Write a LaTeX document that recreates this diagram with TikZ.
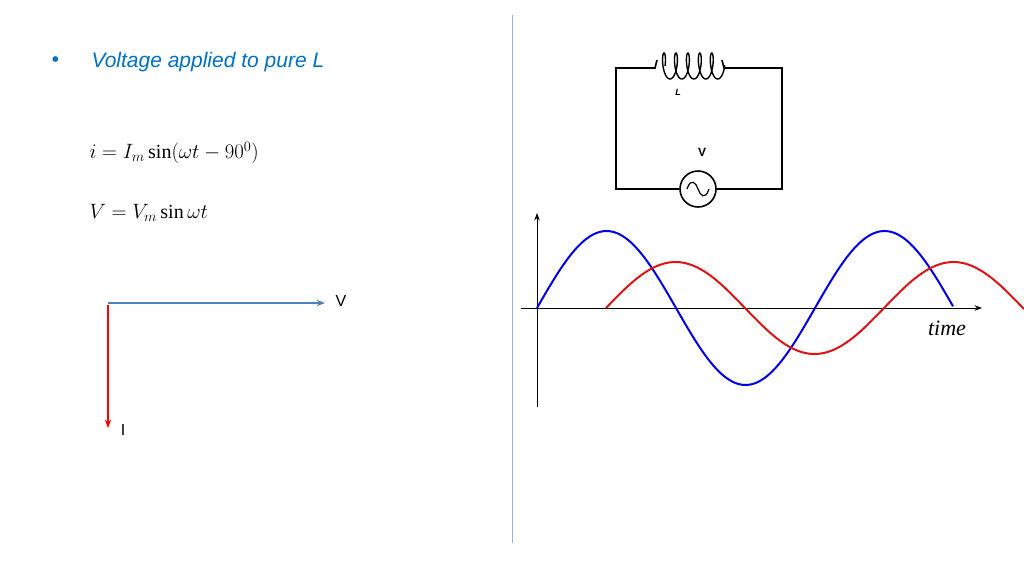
\documentclass[tikz,border=0pt]{standalone}
\usepackage{fontspec}
\setmainfont{Liberation Serif}
\setsansfont{Liberation Sans}
\usetikzlibrary{arrows.meta,positioning}
\definecolor{titleblue}{RGB}{0,112,192}
\definecolor{phasorblue}{RGB}{79,129,189}
\definecolor{divider}{RGB}{149,179,215}
\definecolor{waveblue}{RGB}{0,0,230}
\definecolor{wavered}{RGB}{220,20,20}
\begin{document}
\begin{tikzpicture}[x=1pt,y=-1pt,
  title/.style  = {anchor=west, font=\fontsize{21}{24}\selectfont\sffamily\itshape, text=titleblue},
  eqn/.style    = {anchor=west, font=\fontsize{20}{24}\selectfont},
  label/.style  = {font=\fontsize{16}{18}\selectfont\sffamily},
  wire/.style   = {line width=1.6pt, black},
  wave/.style   = {line width=2pt, smooth, samples=120},
  >=Stealth]
\useasboundingbox (0,0) rectangle (1024,576);

% left panel
\node[title] (bullet) at (48,62) {\textbullet};
\node[title] (head) at (88,62) {Voltage applied to pure L};
\node[eqn] (eqi) at (86,153) {$i = I_m \sin(\omega t - 90^0)$};
\node[eqn] (eqv) at (86,213) {$V = V_m \sin \omega t$};

\coordinate (o) at (108,303);
\coordinate (vtip) at (325,303);
\coordinate (itip) at (108,428);
\draw[->, phasorblue, line width=1.2pt] (o) -- (vtip);
\draw[->, red, line width=1.2pt] (108,305) -- (itip);
\node[label] (vlab) at (341,301) {V};
\node[label] (ilab) at (123,430) {I};

\draw[divider, line width=1pt] (512,15) -- (512,543);

% circuit
\coordinate (tl) at (616,68);
\coordinate (tr) at (782,68);
\coordinate (bl) at (616,189);
\coordinate (br) at (782,189);
\node[draw, circle, line width=1.6pt, minimum size=36pt, inner sep=0pt] (src) at (698,189) {};
\draw[line width=1.2pt] (687,189) .. controls (691,177) and (696,183) .. (698,189)
  .. controls (700,195) and (705,201) .. (709,189);
\draw[wire] (src.west) -- (bl) -- (tl) -- (655,68) -- (657,60);
\draw[wire] (src.east) -- (br) -- (tr) -- (724,68) -- (722,60);
\draw[line width=1.4pt] plot[domain=-1.57:29.9, samples=200, smooth]
  ({664 + 1.9*\x - 4*sin(\x r)}, {66 - 13*cos(\x r)});
\node[font=\bfseries\sffamily\itshape\small] (lname) at (678,92) {L};
\node[font=\bfseries\sffamily\large] (vname) at (702,152) {V};

% waveforms
\coordinate (yb) at (537,407);
\coordinate (yt) at (537,213);
\coordinate (xl) at (521,308);
\coordinate (xr) at (982,308);
\draw[->, line width=1pt] (yb) -- (yt);
\draw[->, line width=1pt] (xl) -- (xr);
\node[font=\fontsize{22}{24}\selectfont\itshape] (tlab) at (947,328) {time};
\draw[wave, waveblue] plot[domain=537:953] (\x, {308 - 77*sin(1.295*(\x-537))});
\draw[wave, wavered] plot[domain=606:1024] (\x, {308 - 46*sin(1.295*(\x-606))});
\end{tikzpicture}
\end{document}
